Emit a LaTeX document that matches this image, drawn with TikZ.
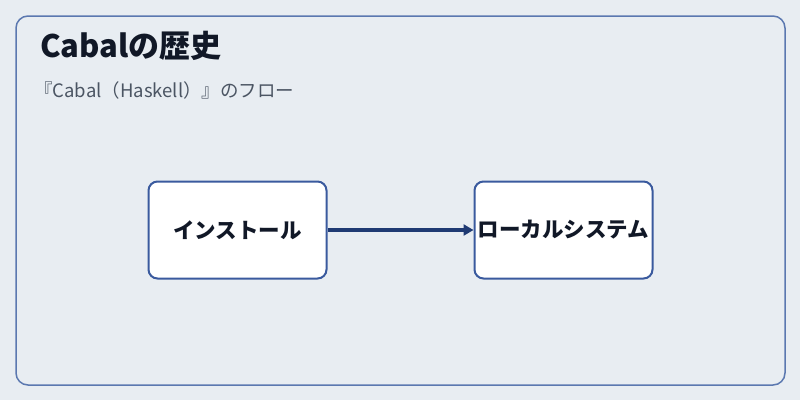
\documentclass[tikz,border=0pt]{standalone}
\usepackage{fontspec}
\setmainfont{Noto Sans CJK JP}
\usetikzlibrary{arrows.meta}
\definecolor{bg}{HTML}{E8EDF2}
\definecolor{frame}{HTML}{5B78B0}
\definecolor{boxb}{HTML}{3A5A9E}
\definecolor{arr}{HTML}{1F3A73}
\definecolor{ttl}{HTML}{111827}
\definecolor{sub}{HTML}{4B5563}
\tikzset{stepbox/.style={draw=boxb,line width=2pt,fill=white,rounded corners=9pt,minimum width=178pt,minimum height=97pt,inner sep=1pt,font=\fontsize{21.5}{24}\selectfont\bfseries,text=ttl}}
\begin{document}
\begin{tikzpicture}[x=1pt,y=-1pt]
\useasboundingbox (0,0) rectangle (800,400);
\fill[bg] (0,0) rectangle (800,400);
\draw[frame,line width=1.5pt,rounded corners=12pt] (16,16) rectangle (785,385);
\node[anchor=west,font=\fontsize{31}{33}\selectfont\bfseries,text=ttl,inner sep=0pt] (t) at (40,46) {Cabalの歴史};
\node[anchor=west,font=\fontsize{18.5}{21}\selectfont,text=sub,inner sep=0pt] (s) at (34,90) {『Cabal（Haskell）』のフロー};
\node[stepbox] (a) at (237.5,230) {インストール};
\node[stepbox] (b) at (563.5,230) {ローカルシステム};
\draw[arr,line width=3.5pt,-{Triangle[length=10pt,width=11pt]}] (a) -- (b);
\end{tikzpicture}
\end{document}
